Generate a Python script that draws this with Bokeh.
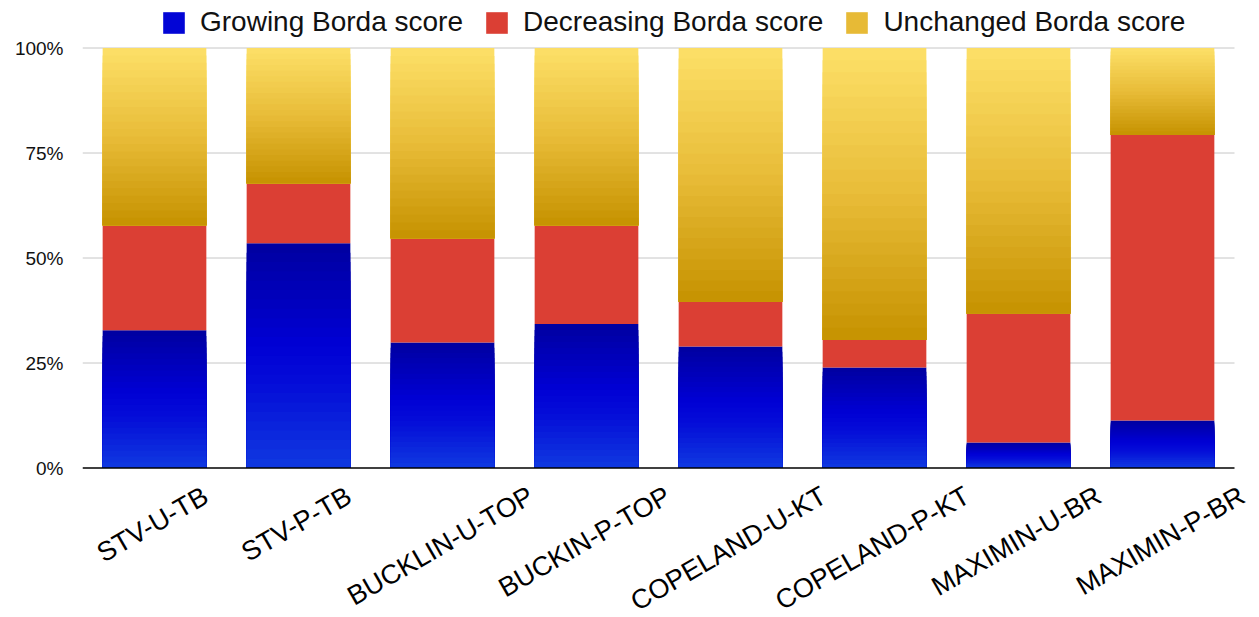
import math
from bokeh.plotting import figure
from bokeh.models import (ColumnDataSource, Range1d, FixedTicker, Legend,
                          LegendItem, LabelSet)
from bokeh.core.properties import value
from bokeh.embed import file_html
from bokeh.resources import INLINE

# ---------------- data ----------------
categories = ["STV-U-TB", "STV-P-TB", "BUCKLIN-U-TOP", "BUCKIN-P-TOP",
              "COPELAND-U-KT", "COPELAND-P-KT", "MAXIMIN-U-BR", "MAXIMIN-P-BR"]
growing = [32.8, 53.5, 29.9, 34.3, 28.9, 23.9, 6.1, 11.3]
decreasing = [25.0, 14.3, 24.8, 23.5, 10.7, 6.6, 30.7, 68.0]
unchanged = [42.2, 32.2, 45.3, 42.2, 60.4, 69.5, 63.2, 20.7]
series_names = ["Growing Borda score", "Decreasing Borda score", "Unchanged Borda score"]
y_tick_values = [0, 25, 50, 75, 100]
y_tick_labels = ["0%", "25%", "50%", "75%", "100%"]

# ---------------- styling ----------------
FONT = "Liberation Sans"
BAR_W = 0.72
N_SLICES = 24
W, H = 1259, 617
LEFT = 82                  # canvas x of the plot area's left edge
CELL = 144                 # px per category
PX_PER_UNIT = 4.2          # 420 px for 0..100 %
ZERO_Y = 467.5             # canvas y of the 0 % line
blue_stops = [(0.0, (0, 0, 160)), (0.45, (0, 0, 212)), (0.62, (4, 12, 216)), (1.0, (16, 58, 224))]
red_stops = [(0.0, (219, 63, 52)), (1.0, (219, 63, 52))]
yellow_stops = [(0.0, (253, 224, 104)), (0.5, (232, 188, 56)), (1.0, (198, 146, 0))]


def grad(stops, t):
    for (t0, c0), (t1, c1) in zip(stops[:-1], stops[1:]):
        if t0 <= t <= t1:
            f = 0 if t1 == t0 else (t - t0) / (t1 - t0)
            c = [round(a + (b - a) * f) for a, b in zip(c0, c1)]
            return "#%02x%02x%02x" % tuple(c)
    return "#%02x%02x%02x" % stops[-1][1]


xs = list(range(len(categories)))          # category positions
x_lo = -0.5
x_hi = x_lo + (W - LEFT) / CELL
y_lo = -(H - ZERO_Y) / PX_PER_UNIT
y_hi = ZERO_Y / PX_PER_UNIT
p = figure(x_range=Range1d(x_lo, x_hi), y_range=Range1d(y_lo, y_hi), width=W, height=H,
           output_backend="svg", toolbar_location=None,
           min_border_left=LEFT, min_border_right=0, min_border_top=0,
           min_border_bottom=0)
p.outline_line_color = None
p.background_fill_color = "white"
p.xgrid.visible = False
p.ygrid.visible = False

# horizontal grid lines spanning the category area only
grid_y = y_tick_values[1:]
p.segment(x0=[xs[0] - 0.5] * len(grid_y), x1=[xs[-1] + 0.5] * len(grid_y),
          y0=grid_y, y1=grid_y, line_color="#c6c6c6", line_width=1)

# stacked segments with vertical gradient (drawn through data scales)
bottoms = [0.0] * len(categories)
legend_renderers = []
for vals, stops in ((growing, blue_stops), (decreasing, red_stops), (unchanged, yellow_stops)):
    tops_full = [b + v for b, v in zip(bottoms, vals)]
    mid_r = None
    n = N_SLICES if stops is not red_stops else 1
    for k in range(n):
        frac = (n - k) / n
        src = ColumnDataSource(dict(
            x=xs,
            bottom=bottoms,
            top=[b + v * frac for b, v in zip(bottoms, vals)],
        ))
        col = grad(stops, (k + 0.5) / n)
        r = p.vbar(x="x", bottom="bottom", top="top", width=BAR_W, source=src,
                   fill_color=col, line_color=None)
        if k == n // 2:
            mid_r = r
    legend_renderers.append(mid_r)
    bottoms = tops_full

# baseline at 0 %
p.segment(x0=[xs[0] - 0.5], x1=[xs[-1] + 0.5], y0=[y_tick_values[0]], y1=[y_tick_values[0]],
          line_color="#000000", line_width=1.5)

# axes
p.yaxis.ticker = FixedTicker(ticks=y_tick_values)
p.yaxis.major_label_overrides = {v: l for v, l in zip(y_tick_values, y_tick_labels)}
p.yaxis.axis_line_color = None
p.yaxis.major_tick_line_color = None
p.yaxis.minor_tick_line_color = None
p.yaxis.major_tick_out = 0
p.yaxis.major_label_standoff = 19
p.yaxis.major_label_text_font = FONT
p.yaxis.major_label_text_font_size = "19px"
p.yaxis.major_label_text_color = "#111111"
p.xaxis.visible = False

# rotated category labels, centred under each bar, tops aligned
ANG = math.radians(30)
FS = 27
cw = {'A': .667, 'B': .667, 'C': .722, 'D': .722, 'E': .667, 'F': .611, 'G': .778,
      'H': .722, 'I': .278, 'K': .667, 'L': .556, 'M': .833, 'N': .722, 'O': .778,
      'P': .667, 'R': .722, 'S': .667, 'T': .611, 'U': .722, 'V': .667, 'X': .667,
      '-': .333}
yo, xo = [], []
for i, c in enumerate(categories):
    L = sum(cw.get(ch, .6) for ch in c) * FS
    V = L * math.sin(ANG) + 0.72 * FS * math.cos(ANG)
    Hx = L * math.cos(ANG) + 0.72 * FS * math.sin(ANG)
    yo.append(-(17 + V / 2))
    cx = LEFT + (i + 0.5) * CELL - 2
    over = cx + Hx / 2 - (W - 3)
    xo.append(-2 - max(0, over))
lab_src = ColumnDataSource(dict(x=xs, y=[0] * len(categories), text=categories,
                                xo=xo, yo=yo))
labels = LabelSet(x="x", y="y", text="text", x_offset="xo", y_offset="yo", source=lab_src,
                  angle=ANG, text_align="center", text_baseline="middle",
                  text_font=value(FONT), text_font_size=f"{FS}px", text_color="#000000")
p.add_layout(labels)

legend = Legend(items=[LegendItem(label=n, renderers=[r]) for n, r in zip(series_names, legend_renderers)],
                orientation="horizontal", location=(78, H - 38),
                glyph_width=27, glyph_height=27, label_standoff=13, spacing=20,
                padding=0, margin=0, border_line_color=None, background_fill_alpha=0,
                label_text_font=FONT, label_text_font_size="28px", label_text_color="#111111")
p.add_layout(legend)

open("out.html", "w").write(file_html(p, INLINE))
